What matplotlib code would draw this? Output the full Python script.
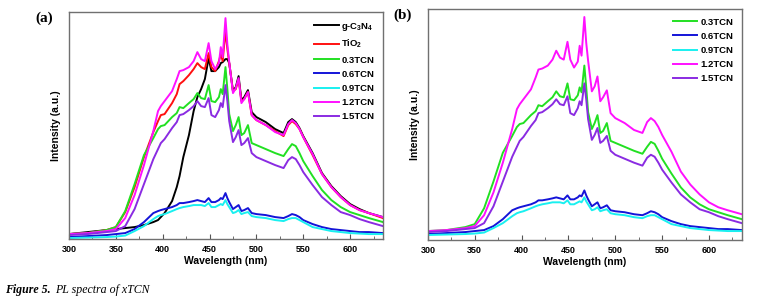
import matplotlib
matplotlib.use('Agg')
from matplotlib import pyplot as plt
from matplotlib.ticker import MultipleLocator

plt.rcParams['font.family'] = 'Liberation Sans'
plt.rcParams['font.weight'] = 'bold'
plt.rcParams['mathtext.fontset'] = 'custom'
plt.rcParams['mathtext.bf'] = 'Liberation Sans:bold'
plt.rcParams['mathtext.rm'] = 'Liberation Sans:bold'
plt.rcParams['mathtext.default'] = 'bf'

# wavelength grid (nm)
wl = [300, 320, 340, 350, 360, 370, 380, 390, 395, 398, 402, 410, 415, 418,
      422, 428, 433, 437, 441, 445, 449, 452, 456, 460, 462, 464, 467, 469,
      471, 475, 478, 481, 484, 487, 491, 495, 500, 510, 520, 529, 534, 538,
      542, 546, 550, 560, 570, 580, 590, 600, 610, 620, 635]

# PL intensity (a.u.)
gcn = [5, 7, 9, 10, 11, 12, 14, 17, 19, 22, 26, 38, 52, 63,
       82, 104, 128, 142, 150, 160, 181, 168, 168, 172, 176, 177, 180, 180,
       176, 148, 152, 163, 139, 142, 149, 127, 122, 117, 110, 106, 117, 120,
       117, 111, 103, 86, 66, 53, 43, 35, 30, 26, 22]
tio2 = [5, 6, 9, 12, 27, 52, 82, 107, 118, 124, 125, 136, 145, 155,
        158, 164, 170, 176, 172, 170, 186, 172, 168, 178, 185, 178, 208, 190,
        176, 148, 150, 160, 138, 140, 147, 124, 119, 114, 108, 103, 114, 118,
        115, 110, 102, 84, 65, 52, 42, 34, 29, 26, 21]
tcn03 = [5, 6, 9, 12, 28, 55, 84, 101, 110, 113, 114, 122, 126, 132,
         131, 136, 140, 146, 141, 140, 154, 138, 137, 142, 150, 145, 172, 150,
         125, 108, 114, 122, 104, 106, 114, 96, 94, 90, 86, 83, 90, 95,
         93, 86, 78, 63, 49, 39, 32, 27, 24, 21, 17]
tcn06 = [2, 3, 4, 5, 6, 10, 17, 26, 28, 29, 30, 32, 34, 36,
         36, 37, 38, 39, 38, 37, 41, 37, 37, 39, 41, 40, 46, 41,
         37, 30, 32, 34, 28, 29, 31, 26, 25, 24, 22, 21, 23, 25,
         24, 22, 19, 15, 12, 10, 9, 8, 7, 7, 6]
tcn09 = [1, 1.5, 2, 2.5, 3.5, 8, 13, 20, 23, 24, 25, 28, 30, 31,
         32, 33, 34, 34, 34, 33, 36, 32, 32, 34, 35, 34, 39, 35,
         32, 26, 27, 29, 25, 26, 27, 23, 22, 21, 19, 18, 20, 21,
         21, 19, 17, 12, 10, 8, 7, 6, 5.5, 5, 5]
tcn12 = [5, 6, 8, 10, 21, 44, 74, 108, 128, 133, 138, 148, 160, 168,
         169, 172, 178, 187, 180, 178, 196, 178, 170, 176, 192, 182, 221, 195,
         177, 146, 151, 161, 136, 140, 147, 124, 119, 114, 107, 104, 115, 119,
         116, 110, 102, 85, 65, 52, 42, 34, 29, 26, 22]
tcn15 = [4, 5, 7, 8, 13, 30, 55, 80, 90, 96, 100, 111, 117, 124,
         125, 129, 133, 138, 133, 132, 141, 124, 122, 129, 136, 132, 154, 138,
         118, 97, 102, 109, 94, 96, 101, 86, 82, 78, 74, 71, 79, 82,
         80, 74, 67, 54, 42, 34, 27, 24, 20, 17, 13]

c_gcn = 'black'
c_tio2 = '#ff1010'
c_03 = '#22e022'
c_06 = '#1414d8'
c_09 = '#19f0f0'
c_12 = '#ff10ff'
c_15 = '#8a2be2'

fig = plt.figure(figsize=(7.6, 3.03), dpi=100)
axa = fig.add_axes([0.0908, 0.211, 0.413, 0.749])
axb = fig.add_axes([0.563, 0.208, 0.413, 0.762])

lw = 1.4
axa.plot(wl, gcn, color=c_gcn, lw=lw, label='g-C$_3$N$_4$')
axa.plot(wl, tio2, color=c_tio2, lw=lw, label='TiO$_2$')
axa.plot(wl, tcn03, color=c_03, lw=lw, label='0.3TCN')
axa.plot(wl, tcn06, color=c_06, lw=lw, label='0.6TCN')
axa.plot(wl, tcn09, color=c_09, lw=lw, label='0.9TCN')
axa.plot(wl, tcn12, color=c_12, lw=lw, label='1.2TCN')
axa.plot(wl, tcn15, color=c_15, lw=lw, label='1.5TCN')

axb.plot(wl, tcn03, color=c_03, lw=lw, label='0.3TCN')
axb.plot(wl, tcn06, color=c_06, lw=lw, label='0.6TCN')
axb.plot(wl, tcn09, color=c_09, lw=lw, label='0.9TCN')
axb.plot(wl, tcn12, color=c_12, lw=lw, label='1.2TCN')
axb.plot(wl, tcn15, color=c_15, lw=lw, label='1.5TCN')

axa.set_ylim(0, 227)
axb.set_ylim(-4, 229)

for ax in (axa, axb):
    ax.set_xlim(300, 635)
    ax.xaxis.set_major_locator(MultipleLocator(50))
    ax.xaxis.set_minor_locator(MultipleLocator(25))
    ax.tick_params(axis='x', which='both', direction='in', labelsize=6.5,
                   color='#555555', pad=4)
    ax.tick_params(axis='x', which='major', length=3.5)
    ax.tick_params(axis='x', which='minor', length=2)
    ax.set_yticks([])
    for s in ax.spines.values():
        s.set_color('#707070')
        s.set_linewidth(1.0)
    ax.set_xlabel('Wavelength (nm)', fontsize=7.5, fontweight='bold', labelpad=2)
    ax.set_ylabel('Intensity (a.u.)', fontsize=7.5, fontweight='bold', labelpad=6)
    ax.legend(loc='upper right', frameon=False, fontsize=6.8, handlelength=2.6,
              handletextpad=0.3, labelspacing=0.55, borderaxespad=0.5)

fig.text(0.046, 0.94, '(a)', family='Liberation Serif', fontweight='bold',
         fontsize=11, va='center')
fig.text(0.517, 0.95, '(b)', family='Liberation Serif', fontweight='bold',
         fontsize=11, va='center')
fig.text(0.006, 0.043, 'Figure 5.', family='Liberation Serif', fontweight='bold',
         style='italic', fontsize=8.6, va='center')
fig.text(0.0724, 0.043, 'PL spectra of xTCN', family='Liberation Serif',
         fontweight='normal', style='italic', fontsize=8.6, va='center')

fig.savefig('out.png', dpi=100)
